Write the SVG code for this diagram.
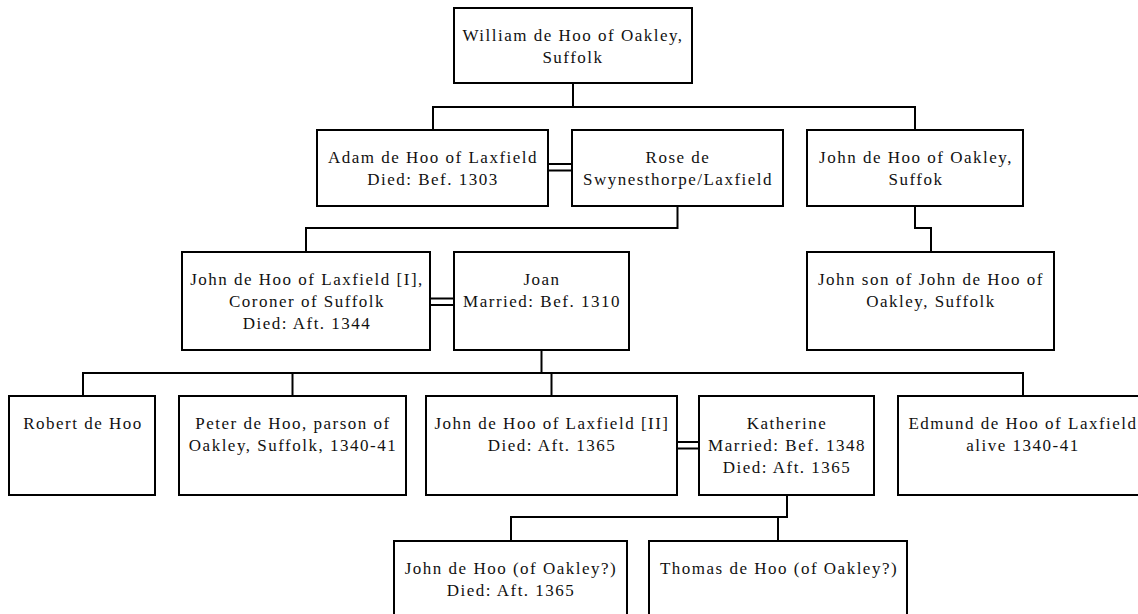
<svg xmlns="http://www.w3.org/2000/svg" width="1138" height="614" viewBox="0 0 1138 614">
<style>
.box{fill:#fff;stroke:#000;stroke-width:2}
.t{font-family:"Liberation Serif","Times New Roman",serif;font-size:17px;letter-spacing:1.5px;fill:#111;text-anchor:middle}
.c{fill:none;stroke:#000;stroke-width:2;stroke-linejoin:miter}
</style>
<rect width="1138" height="614" fill="#fff"/>
<g id="connectors" class="c">
<path d="M573,83 V107"/>
<path d="M433,130 V107 H915 V130"/>
<path d="M548,164 H572 M548,170.5 H572"/>
<path d="M677.5,206 V228 H306 V252"/>
<path d="M915,206 V228 H931 V252"/>
<path d="M430,298.5 H454 M430,305 H454"/>
<path d="M541.5,350 V373"/>
<path d="M83,396 V373 H1023 V396"/>
<path d="M292.5,373 V396"/>
<path d="M551.5,373 V396"/>
<path d="M677,442 H699 M677,448.5 H699"/>
<path d="M787,495 V517 H511 V541"/>
<path d="M778,517 V541"/>
</g>
<g id="n1"><rect class="box" x="454" y="8" width="238" height="75"/><text class="t" x="573" y="41">William de Hoo of Oakley,</text><text class="t" x="573" y="63">Suffolk</text></g>
<g id="n2"><rect class="box" x="317" y="130" width="231" height="76"/><text class="t" x="433" y="163">Adam de Hoo of Laxfield</text><text class="t" x="433" y="185">Died: Bef. 1303</text></g>
<g id="n3"><rect class="box" x="572" y="130" width="211" height="76"/><text class="t" x="678" y="163">Rose de</text><text class="t" x="678" y="185">Swynesthorpe/Laxfield</text></g>
<g id="n4"><rect class="box" x="807" y="130" width="216" height="76"/><text class="t" x="916" y="163">John de Hoo of Oakley,</text><text class="t" x="916" y="185">Suffok</text></g>
<g id="n5"><rect class="box" x="182" y="252" width="248" height="98"/><text class="t" x="307" y="285">John de Hoo of Laxfield [I],</text><text class="t" x="307" y="307">Coroner of Suffolk</text><text class="t" x="307" y="329">Died: Aft. 1344</text></g>
<g id="n6"><rect class="box" x="454" y="252" width="175" height="98"/><text class="t" x="542" y="285">Joan</text><text class="t" x="542" y="307">Married: Bef. 1310</text></g>
<g id="n7"><rect class="box" x="807" y="252" width="247" height="98"/><text class="t" x="931" y="285">John son of John de Hoo of</text><text class="t" x="931" y="307">Oakley, Suffolk</text></g>
<g id="n8"><rect class="box" x="9" y="396" width="146" height="99"/><text class="t" x="83" y="429">Robert de Hoo</text></g>
<g id="n9"><rect class="box" x="179" y="396" width="227" height="99"/><text class="t" x="293" y="429">Peter de Hoo, parson of</text><text class="t" x="293" y="451">Oakley, Suffolk, 1340-41</text></g>
<g id="n10"><rect class="box" x="426" y="396" width="251" height="99"/><text class="t" x="552" y="429">John de Hoo of Laxfield [II]</text><text class="t" x="552" y="451">Died: Aft. 1365</text></g>
<g id="n11"><rect class="box" x="699" y="396" width="175" height="99"/><text class="t" x="787" y="429">Katherine</text><text class="t" x="787" y="451">Married: Bef. 1348</text><text class="t" x="787" y="473">Died: Aft. 1365</text></g>
<g id="n12"><rect class="box" x="898" y="396" width="250" height="99"/><text class="t" x="1023" y="429">Edmund de Hoo of Laxfield</text><text class="t" x="1023" y="451">alive 1340-41</text></g>
<g id="n13"><rect class="box" x="394" y="541" width="233" height="80"/><text class="t" x="511" y="574">John de Hoo (of Oakley?)</text><text class="t" x="511" y="596">Died: Aft. 1365</text></g>
<g id="n14"><rect class="box" x="649" y="541" width="258" height="80"/><text class="t" x="779" y="574">Thomas de Hoo (of Oakley?)</text></g>
</svg>
